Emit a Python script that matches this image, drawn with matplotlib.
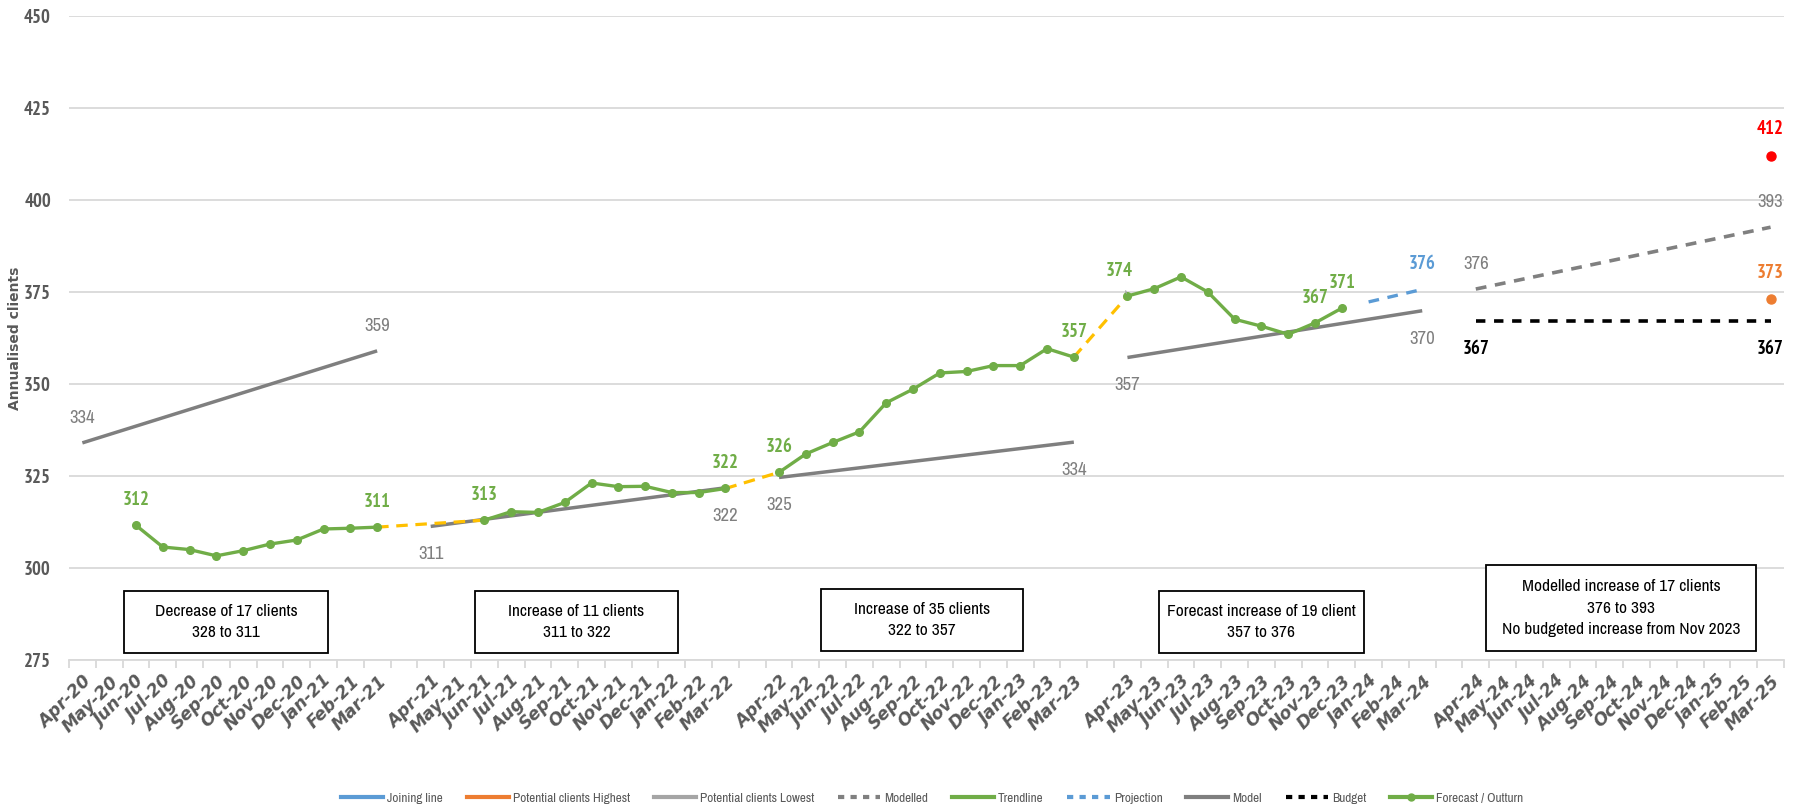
import os
import numpy as np
import matplotlib.pyplot as plt
from matplotlib import font_manager
from matplotlib.font_manager import FontProperties
from matplotlib.lines import Line2D
from matplotlib.patches import Rectangle

# --- categorias: un hueco en blanco entre ejercicios ---
fy20 = ["Apr-20", "May-20", "Jun-20", "Jul-20", "Aug-20", "Sep-20",
        "Oct-20", "Nov-20", "Dec-20", "Jan-21", "Feb-21", "Mar-21"]
fy21 = ["Apr-21", "May-21", "Jun-21", "Jul-21", "Aug-21", "Sep-21",
        "Oct-21", "Nov-21", "Dec-21", "Jan-22", "Feb-22", "Mar-22"]
fy22 = ["Apr-22", "May-22", "Jun-22", "Jul-22", "Aug-22", "Sep-22",
        "Oct-22", "Nov-22", "Dec-22", "Jan-23", "Feb-23", "Mar-23"]
fy23 = ["Apr-23", "May-23", "Jun-23", "Jul-23", "Aug-23", "Sep-23",
        "Oct-23", "Nov-23", "Dec-23", "Jan-24", "Feb-24", "Mar-24"]
fy24 = ["Apr-24", "May-24", "Jun-24", "Jul-24", "Aug-24", "Sep-24",
        "Oct-24", "Nov-24", "Dec-24", "Jan-25", "Feb-25", "Mar-25"]
categories = fy20 + [""] + fy21 + [""] + fy22 + [""] + fy23 + [""] + fy24

# --- series ---
outturn_months = fy20[2:] + fy21[2:] + fy22 + fy23[:9]
outturn_values = [311.6, 305.7, 305.0, 303.3, 304.7, 306.5, 307.6, 310.6, 310.8, 311.1,
                  313.0, 315.3, 315.1, 317.8, 323.1, 322.1, 322.2, 320.5, 320.5, 321.6,
                  326.0, 331.0, 334.1, 337.0, 344.9, 348.6, 353.0, 353.4, 355.0, 355.0, 359.6, 357.3,
                  373.9, 375.9, 379.1, 375.0, 367.6, 365.7, 363.5, 366.6, 370.6]

model_start_months = ["Apr-20", "Apr-21", "Apr-22", "Apr-23"]
model_start_values = [334.0, 311.3, 324.6, 357.2]
model_end_months = ["Mar-21", "Mar-22", "Mar-23", "Mar-24"]
model_end_values = [359.0, 321.8, 334.2, 369.9]

join_from = ["Mar-21", "Mar-22", "Mar-23"]
join_to = ["Jun-21", "Apr-22", "Apr-23"]

projection_months = ["Jan-24", "Feb-24", "Mar-24"]
projection_values = [372.3, 374.0, 375.7]

modelled_months = ["Apr-24", "Mar-25"]
modelled_values = [375.8, 392.6]

budget_months = ["Apr-24", "Mar-25"]
budget_values = [367.0, 367.0]

highest_month, highest_value = "Mar-25", 412.0
lowest_month, lowest_value = "Mar-25", 373.0

box_texts = ["Decrease of 17 clients\n328 to 311",
             "Increase of 11 clients\n311 to 322",
             "Increase of 35 clients\n322 to 357",
             "Forecast increase of 19 client\n357 to 376",
             "Modelled increase of 17 clients\n376 to 393\nNo budgeted increase from Nov 2023"]

# --- colores ---
GREEN = "#70AD47"
GREY = "#7F7F7F"
YELLOW = "#FFC000"
BLUE = "#5B9BD5"
ORANGE = "#ED7D31"
LGREY = "#A5A5A5"
TXT = "#595959"
GRID = "#D9D9D9"

# --- fuente estrecha (tipo Calibri): se buscan los ficheros directamente ---
files = sorted({f.fname for f in font_manager.fontManager.ttflist})
narrow = [p for p in files if "narrow" in os.path.basename(p).lower()]
if not narrow:
    narrow = [p for p in files if "condensed" in os.path.basename(p).lower()
              and "mono" not in os.path.basename(p).lower()]


def pick(bold, italic):
    for p in narrow:
        b = os.path.basename(p).lower()
        is_b = "bold" in b
        is_i = "italic" in b or "oblique" in b
        if is_b == bold and is_i == italic:
            return p
    return None


def fp(size, bold=False, italic=False):
    path = pick(bold, italic)
    if path:
        return FontProperties(fname=path, size=size)
    return FontProperties(family="DejaVu Sans", size=size,
                          weight="bold" if bold else "normal",
                          style="italic" if italic else "normal")


pos = {c: i for i, c in enumerate(categories) if c}
out_lookup = dict(zip(outturn_months, outturn_values))

fig = plt.figure(figsize=(17.96, 8.11), dpi=100)
ax = fig.add_axes([0.0384, 0.1862, 0.9549, 0.7941])

# Forecast / Outturn (huecos con NaN)
series = np.full(len(categories), np.nan)
for m, v in zip(outturn_months, outturn_values):
    series[pos[m]] = v
ax.plot(np.arange(len(categories)), series, color=GREEN, lw=2.4, marker="o",
        ms=5.5, zorder=5)

# Lineas de union (amarillo discontinuo)
for a, b in zip(join_from, join_to):
    ln, = ax.plot([pos[a], pos[b]], [out_lookup[a], out_lookup[b]], color=YELLOW,
                  lw=2.3, zorder=4)
    ln.set_dashes((3.6, 2.4))

# Modelo (gris)
for ms_, mv0, me_, mv1 in zip(model_start_months, model_start_values,
                              model_end_months, model_end_values):
    ax.plot([pos[ms_], pos[me_]], [mv0, mv1], color=GREY, lw=2.5,
            solid_capstyle="butt", zorder=3)

# Proyeccion
ln, = ax.plot([pos[m] for m in projection_months], projection_values, color=BLUE, lw=2.4)
ln.set_dashes((3.2, 2.6))
# Modelado
ln, = ax.plot([pos[m] for m in modelled_months], modelled_values, color="#808080", lw=2.6)
ln.set_dashes((3.0, 2.4))
# Presupuesto
ln, = ax.plot([pos[m] for m in budget_months], budget_values, color="black", lw=2.6)
ln.set_dashes((2.6, 2.4))

ax.plot(pos[highest_month], highest_value, "o", color="#FF0000", ms=6.5, zorder=6)
ax.plot(pos[lowest_month], lowest_value, "o", color=ORANGE, ms=6.5, zorder=6)

LBL = 13.5


def label(month, value, color, dy, bold=True, dx=0):
    ax.annotate(f"{value:.0f}", (pos[month], value), xytext=(dx, dy),
                textcoords="offset points", ha="center", va="center",
                color=color, fontproperties=fp(LBL, bold), zorder=7)


for m in ["Jun-20", "Mar-21", "Jun-21", "Mar-22", "Apr-22", "Mar-23", "Nov-23", "Dec-23"]:
    label(m, out_lookup[m], GREEN, 18)
ax.annotate(f"{out_lookup['Apr-23']:.0f}", (pos["Apr-23"], out_lookup["Apr-23"]),
            xytext=(-6, 18), textcoords="offset points", ha="center", va="center",
            color=GREEN, fontproperties=fp(LBL, True), zorder=7,
            arrowprops=dict(arrowstyle="-", color="#A0A0A0", lw=0.8,
                            shrinkA=6, shrinkB=2))

label(model_start_months[0], model_start_values[0], GREY, 18, False)
label(model_end_months[0], model_end_values[0], GREY, 18, False)
for m, v in zip(model_start_months[1:], model_start_values[1:]):
    label(m, v, GREY, -20, False)
for m, v in zip(model_end_months[1:], model_end_values[1:]):
    label(m, v, GREY, -20, False)
label(projection_months[-1], projection_values[-1], BLUE, 18)
label(modelled_months[0], modelled_values[0], GREY, 18, False)
label(modelled_months[-1], modelled_values[-1], GREY, 18, False)
label(budget_months[0], budget_values[0], "black", -20)
label(budget_months[-1], budget_values[-1], "black", -20)
label(highest_month, highest_value, "#FF0000", 19)
label(lowest_month, lowest_value, ORANGE, 19)

# --- ejes ---
ax.set_xlim(-0.5, len(categories) - 0.5)
ax.set_ylim(275, 450)
ax.set_yticks(np.arange(275, 451, 25))
ax.grid(axis="y", color=GRID, lw=1.3)
ax.set_axisbelow(True)
for s in ["top", "right", "left"]:
    ax.spines[s].set_visible(False)
ax.spines["bottom"].set_color(GRID)
ax.spines["bottom"].set_linewidth(1.3)

ax.set_xticks(np.arange(len(categories)))
ax.set_xticklabels(categories, rotation=45, ha="right", va="top",
                   rotation_mode="anchor", color=TXT)
xfp = fp(12.5, True, True)
for t in ax.get_xticklabels():
    t.set_fontproperties(xfp)
ax.set_xticks(np.arange(-0.5, len(categories)), minor=True)
ax.tick_params(axis="x", which="major", length=0, pad=9)
ax.tick_params(axis="x", which="minor", length=6, color=GRID, width=1.3)
ax.tick_params(axis="y", length=0, pad=13, labelcolor=TXT)
yfp = fp(13.5, True)
for t in ax.get_yticklabels():
    t.set_fontproperties(yfp)

fig.text(0.0084, 0.583, "Annualised clients", rotation=90, ha="center", va="center",
         color=TXT, fontproperties=FontProperties(family="DejaVu Sans", size=10,
                                                  weight="bold"))

# --- cuadros de texto ---
boxes = [(0.0690, 0.1948, 0.1136, 0.0765),
         (0.2645, 0.1948, 0.1130, 0.0765),
         (0.4571, 0.1973, 0.1125, 0.0765),
         (0.6453, 0.1948, 0.1141, 0.0765),
         (0.8274, 0.1973, 0.1503, 0.1060)]
for (x0, y0, w, h), txt in zip(boxes, box_texts):
    fig.patches.append(Rectangle((x0, y0), w, h, transform=fig.transFigure,
                                 facecolor="white", edgecolor="black", lw=1.3, zorder=8))
    fig.text(x0 + w / 2, y0 + h / 2, txt, ha="center", va="center",
             fontproperties=fp(12.5), linespacing=1.55, color="black", zorder=9)

# --- leyenda ---
handles = [
    Line2D([], [], color=BLUE, lw=3),
    Line2D([], [], color=ORANGE, lw=3),
    Line2D([], [], color=LGREY, lw=3),
    Line2D([], [], color="#808080", lw=3, dashes=(1.5, 1.5)),
    Line2D([], [], color=GREEN, lw=3),
    Line2D([], [], color=BLUE, lw=3, dashes=(1.5, 1.5)),
    Line2D([], [], color=GREY, lw=3),
    Line2D([], [], color="black", lw=3, dashes=(1.5, 1.5)),
    Line2D([], [], color=GREEN, lw=3, marker="o", ms=5),
]
names = ["Joining line", "Potential clients Highest", "Potential clients Lowest",
         "Modelled", "Trendline", "Projection", "Model", "Budget", "Forecast / Outturn"]
fig.legend(handles, names, loc="center", bbox_to_anchor=(0.519, 0.016), ncol=9,
           frameon=False, prop=fp(9.5), handlelength=3.2, handletextpad=0.3,
           columnspacing=1.8, labelcolor=TXT)

fig.savefig("out.png", dpi=100)
